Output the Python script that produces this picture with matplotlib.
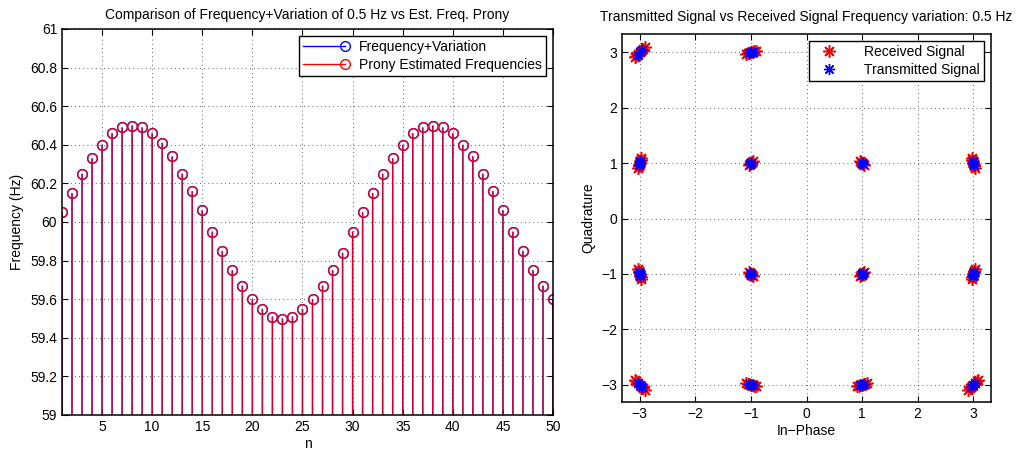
import matplotlib
matplotlib.use('Agg')
import matplotlib.pyplot as plt
from matplotlib.lines import Line2D
from matplotlib.legend_handler import HandlerBase
import numpy as np

plt.rcParams['font.family'] = ['Liberation Sans', 'DejaVu Sans']
plt.rcParams['font.size'] = 10

# ---- left panel data ----
n = list(range(1, 51))
freq_var = [60.05, 60.15, 60.25, 60.33, 60.40, 60.46, 60.49, 60.50, 60.49, 60.46,
            60.41, 60.34, 60.25, 60.16, 60.06, 59.95, 59.85, 59.75, 59.67, 59.60,
            59.55, 59.51, 59.50, 59.51, 59.55, 59.60, 59.67, 59.75, 59.84, 59.95,
            60.05, 60.15, 60.25, 60.33, 60.40, 60.46, 60.49, 60.50, 60.49, 60.46,
            60.40, 60.34, 60.25, 60.16, 60.06, 59.95, 59.85, 59.75, 59.67, 59.60]
freq_prony = [60.05, 60.15, 60.25, 60.33, 60.40, 60.46, 60.49, 60.50, 60.49, 60.46,
              60.41, 60.34, 60.25, 60.16, 60.06, 59.95, 59.85, 59.75, 59.67, 59.60,
              59.55, 59.51, 59.50, 59.51, 59.55, 59.60, 59.67, 59.75, 59.84, 59.95,
              60.05, 60.15, 60.25, 60.33, 60.40, 60.46, 60.49, 60.50, 60.49, 60.46,
              60.40, 60.34, 60.25, 60.16, 60.06, 59.95, 59.85, 59.75, 59.67, 59.60]

# ---- right panel data (one line per constellation cluster) ----
rx_x = [-2.91, -2.94, -2.97, -3.00, -3.03, -3.06, -3.09,
        -0.91, -0.94, -0.97, -1.00, -1.03, -1.06, -1.09,
        1.09, 1.06, 1.03, 1.00, 0.97, 0.94, 0.91,
        3.09, 3.06, 3.03, 3.00, 2.97, 2.94, 2.91,
        -2.97, -2.98, -2.99, -3.00, -3.01, -3.02, -3.03,
        -0.97, -0.98, -0.99, -1.00, -1.01, -1.02, -1.03,
        1.03, 1.02, 1.01, 1.00, 0.99, 0.98, 0.97,
        3.03, 3.02, 3.01, 3.00, 2.99, 2.98, 2.97,
        -3.03, -3.02, -3.01, -3.00, -2.99, -2.98, -2.97,
        -1.03, -1.02, -1.01, -1.00, -0.99, -0.98, -0.97,
        0.97, 0.98, 0.99, 1.00, 1.01, 1.02, 1.03,
        2.97, 2.98, 2.99, 3.00, 3.01, 3.02, 3.03,
        -3.09, -3.06, -3.03, -3.00, -2.97, -2.94, -2.91,
        -1.09, -1.06, -1.03, -1.00, -0.97, -0.94, -0.91,
        0.91, 0.94, 0.97, 1.00, 1.03, 1.06, 1.09,
        2.91, 2.94, 2.97, 3.00, 3.03, 3.06, 3.09]
rx_y = [3.09, 3.06, 3.03, 3.00, 2.97, 2.94, 2.91,
        3.03, 3.02, 3.01, 3.00, 2.99, 2.98, 2.97,
        2.97, 2.98, 2.99, 3.00, 3.01, 3.02, 3.03,
        2.91, 2.94, 2.97, 3.00, 3.03, 3.06, 3.09,
        1.09, 1.06, 1.03, 1.00, 0.97, 0.94, 0.91,
        1.03, 1.02, 1.01, 1.00, 0.99, 0.98, 0.97,
        0.97, 0.98, 0.99, 1.00, 1.01, 1.02, 1.03,
        0.91, 0.94, 0.97, 1.00, 1.03, 1.06, 1.09,
        -0.91, -0.94, -0.97, -1.00, -1.03, -1.06, -1.09,
        -0.97, -0.98, -0.99, -1.00, -1.01, -1.02, -1.03,
        -1.03, -1.02, -1.01, -1.00, -0.99, -0.98, -0.97,
        -1.09, -1.06, -1.03, -1.00, -0.97, -0.94, -0.91,
        -2.91, -2.94, -2.97, -3.00, -3.03, -3.06, -3.09,
        -2.97, -2.98, -2.99, -3.00, -3.01, -3.02, -3.03,
        -3.03, -3.02, -3.01, -3.00, -2.99, -2.98, -2.97,
        -3.09, -3.06, -3.03, -3.00, -2.97, -2.94, -2.91]
tx_x = [-2.96, -3.00, -3.04,  -0.96, -1.00, -1.04,  1.04, 1.00, 0.96,  3.04, 3.00, 2.96,
        -2.99, -3.00, -3.01,  -0.99, -1.00, -1.01,  1.01, 1.00, 0.99,  3.01, 3.00, 2.99,
        -3.01, -3.00, -2.99,  -1.01, -1.00, -0.99,  0.99, 1.00, 1.01,  2.99, 3.00, 3.01,
        -3.04, -3.00, -2.96,  -1.04, -1.00, -0.96,  0.96, 1.00, 1.04,  2.96, 3.00, 3.04]
tx_y = [3.04, 3.00, 2.96,  3.01, 3.00, 2.99,  2.99, 3.00, 3.01,  2.96, 3.00, 3.04,
        1.04, 1.00, 0.96,  1.01, 1.00, 0.99,  0.99, 1.00, 1.01,  0.96, 1.00, 1.04,
        -0.96, -1.00, -1.04,  -0.99, -1.00, -1.01,  -1.01, -1.00, -0.99,  -1.04, -1.00, -0.96,
        -2.96, -3.00, -3.04,  -2.99, -3.00, -3.01,  -3.01, -3.00, -2.99,  -3.04, -3.00, -2.96]


class StemHandler(HandlerBase):
    # matlab-style stem legend: line with the circle at its right end
    def create_artists(self, legend, orig, xd, yd, w, h, fs, trans):
        y = h / 2 - yd
        ln = Line2D([-xd, -xd + w], [y, y], color=orig.get_color(), lw=1)
        mk = Line2D([-xd + w], [y], marker='o', mfc='none', mec=orig.get_color(),
                    ms=7, ls='none', mew=1)
        ln.set_transform(trans)
        mk.set_transform(trans)
        return [ln, mk]


def matlab_axes(ax):
    ax.grid(True, linestyle=(0, (1, 4)), color='#303030', lw=0.6)
    ax.tick_params(direction='in', top=True, right=True, length=4, width=0.8,
                   colors='black', labelsize=10)
    for s in ax.spines.values():
        s.set_linewidth(1.1)


fig = plt.figure(figsize=(10.21, 4.54), dpi=100)

ax1 = fig.add_axes([62 / 1021, 1 - 415 / 454, 491 / 1021, 386 / 454])
ax1.vlines(n, 59, freq_var, color='blue', lw=1, snap=False)
ax1.plot(n, freq_var, 'o', mfc='none', mec='blue', ms=7, mew=1)
ax1.vlines(n, 59, freq_prony, color='red', lw=1, alpha=0.8, snap=False)
ax1.plot(n, freq_prony, 'o', mfc='none', mec='red', ms=7, mew=1, alpha=0.85)
ax1.set_xlim(1, 50)
ax1.set_ylim(59, 61)
ax1.set_xticks(range(5, 51, 5))
ax1.set_yticks(np.arange(59, 61.01, 0.2))
ax1.set_yticklabels(['59', '59.2', '59.4', '59.6', '59.8', '60', '60.2', '60.4',
                     '60.6', '60.8', '61'])
matlab_axes(ax1)
ax1.set_title('Comparison of Frequency+Variation of 0.5 Hz vs Est. Freq. Prony',
              fontsize=10, pad=7)
ax1.set_xlabel('n', labelpad=2)
ax1.set_ylabel('Frequency (Hz)', labelpad=4)
h1 = Line2D([], [], color='blue')
h2 = Line2D([], [], color='red')
leg = ax1.legend([h1, h2], ['Frequency+Variation', 'Prony Estimated Frequencies'],
                 loc='upper right', handler_map={Line2D: StemHandler()},
                 fancybox=False, edgecolor='black', framealpha=1, fontsize=10,
                 borderaxespad=0.5, handlelength=3.0, labelspacing=0.25,
                 borderpad=0.3, handletextpad=1.0)
leg.get_frame().set_linewidth(1.0)

ax2 = fig.add_axes([622 / 1021, 1 - 402 / 454, 369 / 1021, 368 / 454])
star = (8, 2, 0)
ax2.plot(rx_x, rx_y, ls='none', marker=star, color='red', mec='red', ms=9, mew=1.1,
         label='Received Signal')
ax2.plot(tx_x, tx_y, ls='none', marker=star, color='blue', mec='blue', ms=8, mew=1.0,
         label='Transmitted Signal')
ax2.set_xlim(-3.32, 3.32)
ax2.set_ylim(-3.31, 3.33)
ax2.set_xticks(range(-3, 4))
ax2.set_yticks(range(-3, 4))
matlab_axes(ax2)
ax2.set_title('Transmitted Signal vs Received Signal Frequency variation: 0.5 Hz',
              fontsize=10, pad=9)
ax2.set_xlabel('In\u2212Phase', labelpad=2)
ax2.set_ylabel('Quadrature', labelpad=4)
leg2 = ax2.legend(loc='upper right', fancybox=False, edgecolor='black', framealpha=1,
                  fontsize=10, borderaxespad=0.5, handlelength=2.4, labelspacing=0.25,
                  borderpad=0.3, handletextpad=1.3, numpoints=1)
leg2.get_frame().set_linewidth(1.0)

fig.savefig('out.png', dpi=100)
